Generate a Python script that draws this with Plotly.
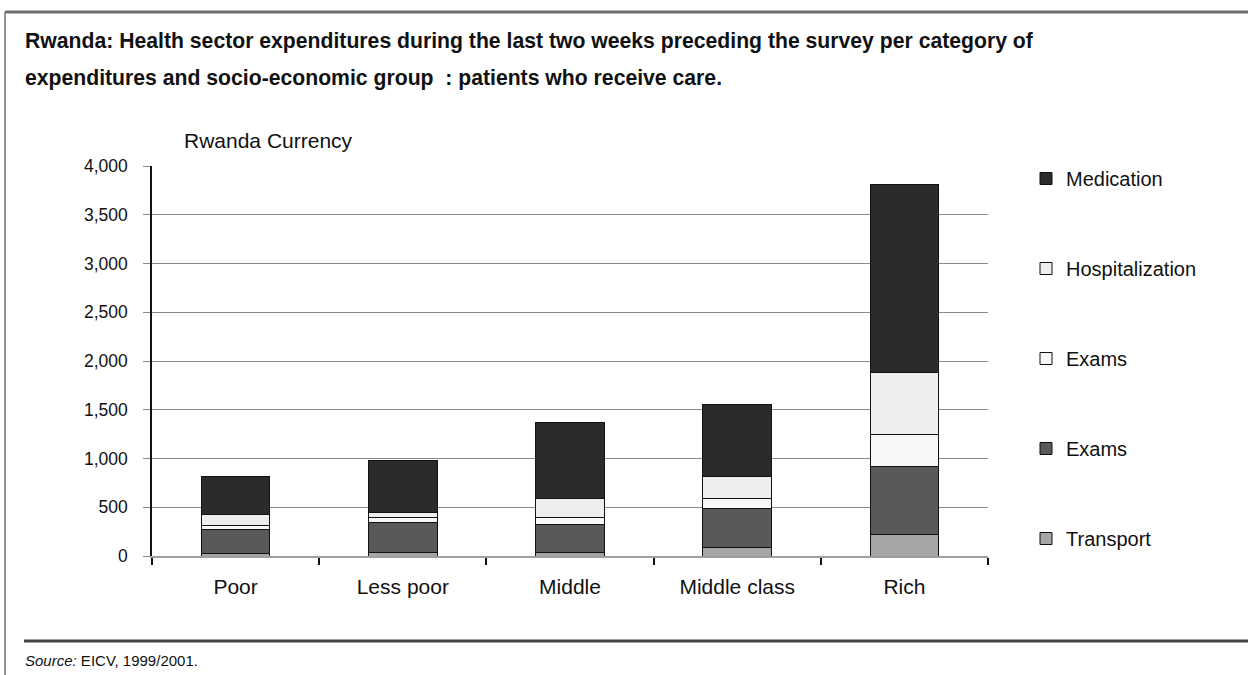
import plotly.graph_objects as go

# Socio-economic groups (x categories)
groups = ["Poor", "Less poor", "Middle", "Middle class", "Rich"]

# Expenditure per category, Rwanda currency (stacked bottom to top)
transport = [25, 41, 41, 85, 223]
exams_dark = [242, 305, 287, 404, 700]
exams_light = [41, 44, 62, 103, 325]
hospitalization = [120, 61, 202, 221, 636]
medication = [389, 530, 779, 743, 1924]

series = [
    ("Transport", transport, "#a6a6a6"),
    ("Exams", exams_dark, "#595959"),
    ("Exams", exams_light, "#f8f8f8"),
    ("Hospitalization", hospitalization, "#eeeeee"),
    ("Medication", medication, "#2b2b2b"),
]

y_ticks = [0, 500, 1000, 1500, 2000, 2500, 3000, 3500, 4000]
y_tick_text = [f"{v:,}" for v in y_ticks]

W, H = 1248, 675
L, R, T, B = 152, 988, 166, 556  # plot area in pixels

FONT = "Liberation Sans, Arial, sans-serif"


def px(x):
    return (x - L) / (R - L)


def py(y):
    return (B - y) / (B - T)


fig = go.Figure()
n = len(series)
for i, (name, vals, color) in enumerate(series):
    fig.add_trace(go.Bar(
        x=groups, y=vals, name=name,
        marker=dict(color=color, line=dict(color="#111111", width=1)),
        legendgroup=f"g{i}", legendrank=n - i,
    ))

fig.update_layout(
    width=W, height=H,
    margin=dict(l=L, r=W - R, t=T, b=H - B),
    paper_bgcolor="white", plot_bgcolor="white",
    barmode="stack", bargap=0.59,
    font=dict(family=FONT, color="#111111"),
    showlegend=True,
    legend=dict(
        x=px(1026), y=py(159), xanchor="left", yanchor="top",
        traceorder="grouped", tracegroupgap=61, maxheight=0.95,
        font=dict(size=20, family=FONT, color="#111111"),
        bgcolor="rgba(0,0,0,0)",
    ),
    xaxis=dict(
        range=[-0.5, 4.5], showgrid=False,
        showline=True, linecolor="#a0a0a0", linewidth=2,
        ticks="outside", tickson="boundaries", ticklen=7, tickcolor="#111111", tickwidth=1.5,
        tickfont=dict(size=21, family=FONT, color="#111111"),
        ticklabelstandoff=11,
    ),
    yaxis=dict(
        range=[0, 4000], tickvals=y_ticks, ticktext=y_tick_text,
        showgrid=True, gridcolor="#8a8a8a", gridwidth=1,
        showline=True, linecolor="#111111", linewidth=1.5,
        ticks="outside", ticklen=7, tickcolor="#8a8a8a", tickwidth=1,
        tickfont=dict(size=17.5, family=FONT, color="#111111"),
        ticklabelstandoff=12, zeroline=False,
    ),
)

# Title, axis caption and source note
fig.add_annotation(
    text="<b>Rwanda: Health sector expenditures during the last two weeks preceding the survey per category of</b>",
    xref="paper", yref="paper", x=px(23), y=py(41), xanchor="left", yanchor="middle",
    showarrow=False, font=dict(size=21.2, family=FONT, color="#111111"),
)
fig.add_annotation(
    text="<b>expenditures and socio-economic group  : patients who receive care.</b>",
    xref="paper", yref="paper", x=px(23), y=py(78), xanchor="left", yanchor="middle",
    showarrow=False, font=dict(size=21.2, family=FONT, color="#111111"),
)
fig.add_annotation(
    text="Rwanda Currency",
    xref="paper", yref="paper", x=px(182), y=py(140), xanchor="left", yanchor="middle",
    showarrow=False, font=dict(size=21, family=FONT, color="#111111"),
)
fig.add_annotation(
    text="<i>Source:</i> EICV, 1999/2001.",
    xref="paper", yref="paper", x=px(23), y=py(660), xanchor="left", yanchor="middle",
    showarrow=False, font=dict(size=15, family=FONT, color="#111111"),
)

# Page frame: top rule, left rule, bottom rule
fig.add_shape(type="line", xref="paper", yref="paper",
              x0=px(5), x1=px(W), y0=py(12), y1=py(12),
              line=dict(color="#6e6e6e", width=3))
fig.add_shape(type="line", xref="paper", yref="paper",
              x0=px(5), x1=px(5), y0=py(12), y1=py(H),
              line=dict(color="#6e6e6e", width=1.5))
fig.add_shape(type="line", xref="paper", yref="paper",
              x0=px(24), x1=px(W), y0=py(641), y1=py(641),
              line=dict(color="#444444", width=3))

fig.write_html("out.html")
